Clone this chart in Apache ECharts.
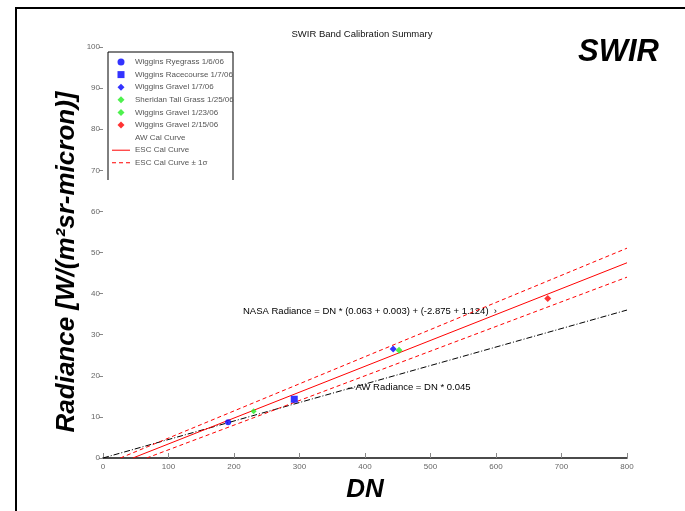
<!DOCTYPE html>
<html>
<head>
<meta charset="utf-8">
<script src="https://cdn.jsdelivr.net/npm/echarts@6/dist/echarts.min.js"></script>
<style>
html,body{margin:0;padding:0;background:#fff;}
#chart{width:685px;height:511px;}
</style>
</head>
<body>
<div id="chart"></div>
<script>
// Measured points [DN, Radiance]
const ryegrass = [[191, 8.7]];
const racecourse = [[292, 14.3]];
const gravel0107 = [[443, 26.5]];
const tallGrass = [[230, 11.4]];
const gravel0123 = [[452, 26.2]];
const gravel0215 = [[679, 38.8]];
// Calibration lines (end points)
const awCurve = [[0, 0], [800, 36.0]];
const escCurve = [[45.6, 0], [800, 47.5]];
const escUpper = [[26.5, 0], [800, 51.05]];
const escLower = [[66.7, 0], [800, 44.0]];
const xTicks = [0, 100, 200, 300, 400, 500, 600, 700, 800];
const yTicks = [0, 10, 20, 30, 40, 50, 60, 70, 80, 90, 100];

const names = [
  'Wiggins Ryegrass 1/6/06',
  'Wiggins Racecourse 1/7/06',
  'Wiggins Gravel 1/7/06',
  'Sheridan Tall Grass 1/25/06',
  'Wiggins Gravel 1/23/06',
  'Wiggins Gravel 2/15/06',
  'AW Cal Curve',
  'ESC Cal Curve',
  'ESC Cal Curve \u00b1 1\u03c3'
];

const ICON_RECT = 'path://M0,0L10,0L10,10L0,10Z';
const ICON_DIAMOND = 'path://M5,0L10,5L5,10L0,5Z';
const ICON_LINE = 'path://M0,0L18,0L18,1L0,1Z';
const ICON_DASH = 'path://M0,0h4v1h-4zM7,0h4v1h-4zM14,0h4v1h-4z';
const legendIcons = ['circle', ICON_RECT, ICON_DIAMOND, ICON_DIAMOND, ICON_DIAMOND, ICON_DIAMOND,
  ICON_LINE, ICON_LINE, ICON_DASH];

const chart = echarts.init(document.getElementById('chart'), null, {renderer: 'canvas'});
const font = 'Liberation Sans, Arial, sans-serif';

function scatter(name, data, symbol, size, color) {
  return {name, type: 'scatter', data, symbol, symbolSize: size,
    itemStyle: {color}, z: 5};
}
function line(name, data, color, type) {
  return {name, type: 'line', data, showSymbol: false, symbol: 'none',
    lineStyle: {color, width: 1, type}, itemStyle: {color}, z: 3};
}

chart.setOption({
  backgroundColor: '#fff',
  animation: false,
  title: {
    text: 'SWIR Band Calibration Summary',
    left: 362, top: 29, textAlign: 'center', padding: 0,
    textStyle: {fontFamily: font, fontSize: 9.5, fontWeight: 'normal', color: '#111'}
  },
  grid: {left: 103, right: 58, top: 47, bottom: 53},
  legend: {
    orient: 'vertical', left: 112, top: 58, padding: 0,
    itemWidth: 18, itemHeight: 7, itemGap: 4.6,
    textStyle: {fontFamily: font, fontSize: 8, color: '#555'},
    data: names.map((n, i) => {
      const o = {name: n, icon: legendIcons[i]};
      if (i === 6) o.itemStyle = {opacity: 0};
      return o;
    })
  },
  xAxis: {
    type: 'value', min: 0, max: 800, interval: 100,
    axisLine: {lineStyle: {color: '#111', width: 1.5}},
    axisTick: {inside: true, length: 5, lineStyle: {color: '#888'}},
    axisLabel: {fontFamily: font, fontSize: 8, color: '#666', margin: 5,
      formatter: v => xTicks.includes(v) ? String(v) : ''},
    splitLine: {show: false},
    name: 'DN', nameLocation: 'middle', nameGap: 19,
    nameTextStyle: {fontFamily: font, fontSize: 26, fontWeight: 'bold', fontStyle: 'italic', color: '#000'}
  },
  yAxis: {
    type: 'value', min: 0, max: 100, interval: 10,
    axisLine: {show: false},
    axisTick: {show: true, length: 4, lineStyle: {color: '#888'}},
    axisLabel: {fontFamily: font, fontSize: 8, color: '#666', margin: 3,
      formatter: v => yTicks.includes(v) ? String(v) : ''},
    splitLine: {show: false}
  },
  series: [
    scatter(names[0], ryegrass, 'circle', 6, '#0000ff'),
    scatter(names[1], racecourse, 'rect', 7, '#0000ff'),
    scatter(names[2], gravel0107, 'diamond', 7, '#0000ff'),
    scatter(names[3], tallGrass, 'diamond', 6, '#22ee22'),
    scatter(names[4], gravel0123, 'diamond', 7, '#22ee22'),
    scatter(names[5], gravel0215, 'diamond', 7, '#ff0000'),
    line(names[6], awCurve, '#000', [6, 2, 1, 2]),
    line(names[7], escCurve, '#ff0000', 'solid'),
    line(names[8], escUpper, '#ff0000', [4, 3]),
    line(names[8], escLower, '#ff0000', [4, 3])
  ],
  graphic: [
    {type: 'polyline', shape: {points: [[16, 511], [16, 8], [685, 8]]},
      style: {stroke: '#000', lineWidth: 2, fill: null}, silent: true},
    {type: 'polyline', shape: {points: [[108, 180], [108, 52], [233, 52], [233, 180]]},
      style: {stroke: '#000', lineWidth: 1, fill: null}, silent: true},
    {type: 'text', x: 67, y: 262, rotation: Math.PI / 2,
      style: {text: 'Radiance [W/(m\u00b2sr-micron)]', font: 'italic bold 26px ' + font,
        fill: '#000', align: 'center', verticalAlign: 'middle'}},
    {type: 'text', left: 578, top: 37,
      style: {text: 'SWIR', font: 'italic bold 31px ' + font, fill: '#000'}},
    {type: 'text', left: 243, top: 306,
      style: {text: 'NASA Radiance = DN * (0.063 + 0.003) + (-2.875 + 1.124)  \u203a',
        font: '9.5px ' + font, fill: '#000'}},
    {type: 'text', left: 346, top: 382,
      style: {text: '\u2190AW Radiance = DN * 0.045', font: '9.5px ' + font, fill: '#000'}}
  ]
});
</script>
</body>
</html>
